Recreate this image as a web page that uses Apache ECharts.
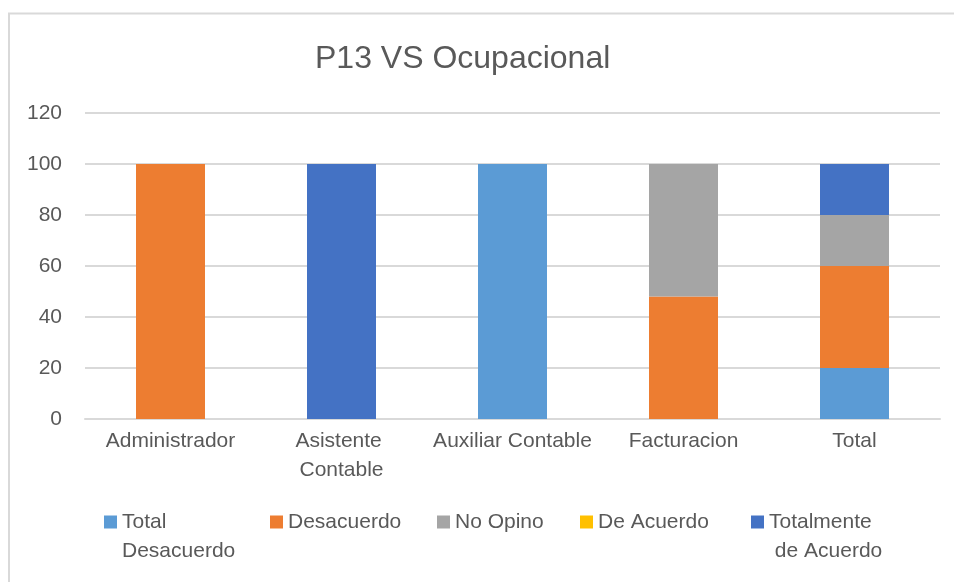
<!DOCTYPE html>
<html>
<head>
<meta charset="utf-8">
<script src="https://cdn.jsdelivr.net/npm/echarts@6/dist/echarts.min.js"></script>
<style>
html,body{margin:0;padding:0;background:#fff;}
#chart{width:954px;height:582px;}
</style>
</head>
<body>
<div id="chart"></div>
<script>
const categories = ['Administrador', 'Asistente Contable', 'Auxiliar Contable', 'Facturacion', 'Total'];
const totalDesacuerdo = [0, 0, 100, 0, 20];
const desacuerdo = [100, 0, 0, 48, 40];
const noOpino = [0, 0, 0, 52, 20];
const deAcuerdo = [0, 0, 0, 0, 0];
const totalmenteDeAcuerdo = [0, 100, 0, 0, 20];
const yTicks = [0, 20, 40, 60, 80, 100, 120];

const seriesNames = ['Total Desacuerdo', 'Desacuerdo', 'No Opino', 'De Acuerdo', 'Totalmente de Acuerdo'];
const seriesData = [totalDesacuerdo, desacuerdo, noOpino, deAcuerdo, totalmenteDeAcuerdo];
const colors = ['#5B9BD5', '#ED7D31', '#A5A5A5', '#FFC000', '#4472C4'];

const FONT = 'Liberation Sans';
const TXT = '#595959';
const LH = 29;

const legendLeft = [104, 270, 437, 580, 751];
const legendLabel = {
  'Total Desacuerdo': ' \nTotal\nDesacuerdo',
  'Totalmente de Acuerdo': ' \nTotalmente\n de Acuerdo'
};

const legends = seriesNames.map((n, i) => {
  const multi = !!legendLabel[n];
  return {
    data: [n],
    left: legendLeft[i],
    top: multi ? 478.5 : 507.5,
    orient: 'horizontal',
    itemWidth: 13,
    itemHeight: 13,
    itemGap: 0,
    padding: 0,
    icon: 'rect',
    formatter: name => legendLabel[name] || name,
    textStyle: {
      fontFamily: FONT,
      fontSize: 21,
      color: TXT,
      lineHeight: LH
    }
  };
});

const chart = echarts.init(document.getElementById('chart'), null, {renderer: 'canvas'});
chart.setOption({
  animation: false,
  backgroundColor: '#fff',
  color: colors,
  title: {
    text: 'P13 VS Ocupacional',
    left: 310,
    top: 38,
    textStyle: {fontFamily: FONT, fontSize: 32, fontWeight: 'normal', color: TXT}
  },
  legend: legends,
  grid: {left: 85, right: 14, top: 113, bottom: 163, containLabel: false},
  xAxis: {
    type: 'category',
    data: categories,
    axisLine: {show: true, lineStyle: {color: '#D9D9D9', width: 2}},
    axisTick: {show: false},
    axisLabel: {
      fontFamily: FONT, fontSize: 21, color: TXT, lineHeight: LH,
      margin: 8, width: 165, overflow: 'break', interval: 0
    }
  },
  yAxis: {
    type: 'value',
    min: yTicks[0],
    max: yTicks[yTicks.length - 1],
    interval: yTicks[1] - yTicks[0],
    axisLine: {show: false},
    axisTick: {show: false},
    splitLine: {lineStyle: {color: '#D9D9D9', width: 2}},
    axisLabel: {fontFamily: FONT, fontSize: 21, color: TXT, margin: 23}
  },
  graphic: [
    {type: 'line', shape: {x1: 8, y1: 13.5, x2: 954, y2: 13.5}, style: {stroke: '#D9D9D9', lineWidth: 2}, silent: true},
    {type: 'line', shape: {x1: 9, y1: 13, x2: 9, y2: 582}, style: {stroke: '#D9D9D9', lineWidth: 2}, silent: true}
  ],
  series: seriesNames.map((n, i) => ({
    name: n,
    type: 'bar',
    stack: 'total',
    barWidth: 69,
    data: seriesData[i],
    itemStyle: {color: colors[i]}
  }))
});
</script>
</body>
</html>
